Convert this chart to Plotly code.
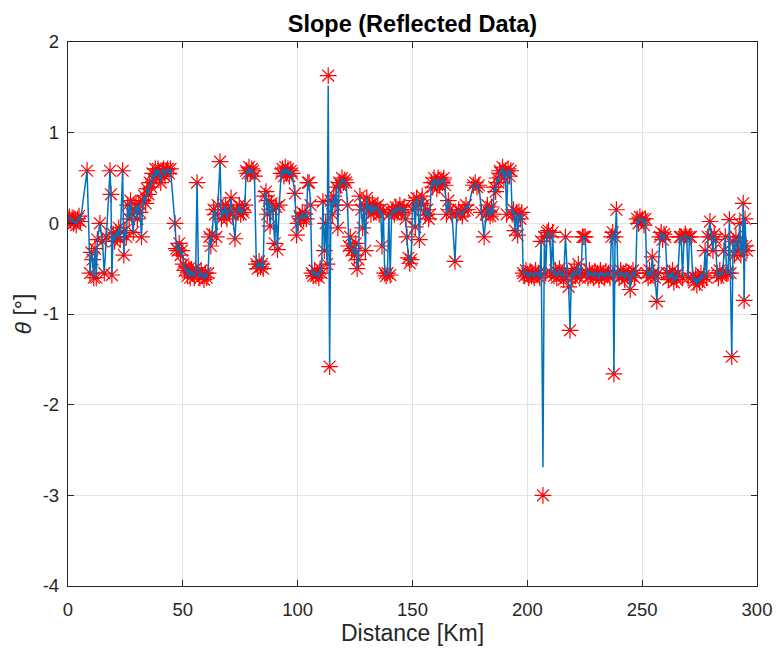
import plotly.graph_objects as go

# ---- data ----
distance_km = [
    0.0, 0.6, 1.2, 1.8, 2.4, 3.0, 3.6, 4.2, 4.8, 5.4,
    8.3, 9.6, 10.2, 10.7, 11.2, 11.8, 12.3, 12.8, 13.9, 15.0,
    15.8, 16.6, 18.3, 18.7, 19.1, 19.7, 20.3, 20.9, 21.5, 22.1,
    22.7, 23.8, 24.3, 24.8, 25.4, 26.0, 26.6, 27.2, 27.8, 28.4,
    29.0, 29.6, 30.2, 30.8, 31.4, 32.0, 32.6, 33.2, 33.8, 34.4,
    35.0, 35.6, 36.2, 36.8, 37.4, 38.0, 38.6, 39.2, 39.8, 40.4,
    41.0, 41.6, 42.2, 42.8, 43.4, 44.0, 44.6, 46.6, 47.2, 47.8,
    48.4, 49.0, 49.6, 50.2, 50.8, 51.4, 52.0, 52.6, 53.2, 53.8,
    54.4, 55.0, 55.6, 56.2, 56.8, 57.4, 58.0, 58.6, 59.2, 59.8,
    60.4, 61.0, 61.6, 62.2, 62.8, 63.4, 64.0, 64.6, 65.2, 66.2,
    66.8, 67.4, 68.0, 68.6, 69.2, 69.8, 70.4, 71.0, 71.6, 72.7,
    73.4, 74.0, 74.6, 75.2, 75.8, 76.4, 77.0, 77.6, 78.2, 78.8,
    79.4, 80.0, 80.6, 81.2, 82.0, 82.6, 83.2, 83.8, 84.4, 85.0,
    85.6, 86.2, 86.8, 87.4, 88.0, 88.6, 89.2, 90.0, 90.6, 91.2,
    92.0, 92.8, 93.4, 94.0, 94.6, 95.2, 95.8, 96.4, 97.0, 97.6,
    98.8, 99.5, 100.2, 100.8, 101.4, 102.0, 102.6, 103.2, 103.8, 104.4,
    105.0, 105.6, 106.2, 106.8, 107.4, 108.0, 108.6, 109.2, 109.8, 110.4,
    111.0, 111.6, 112.2, 112.8, 113.3, 113.9, 114.5, 115.1, 115.7, 116.3,
    116.9, 117.5, 118.1, 118.7, 119.3, 119.9, 120.5, 121.1, 121.7, 122.3,
    122.9, 123.5, 124.1, 124.7, 125.3, 125.9, 126.5, 127.1, 127.7, 128.3,
    128.9, 129.5, 130.1, 130.7, 131.3, 131.9, 132.5, 133.1, 133.7, 134.3,
    134.9, 135.5, 136.1, 136.7, 137.3, 137.9, 138.5, 139.1, 139.7, 140.3,
    140.9, 141.5, 142.1, 142.7, 143.3, 143.9, 144.5, 145.1, 145.7, 146.3,
    147.0, 147.6, 148.2, 148.8, 149.4, 150.0, 150.6, 151.2, 151.8, 152.4,
    153.0, 153.6, 154.2, 154.8, 155.6, 156.4, 157.0, 157.6, 158.2, 158.8,
    159.4, 160.0, 160.6, 161.2, 161.8, 162.4, 163.0, 163.6, 164.2, 164.8,
    165.6, 166.4, 167.2, 168.5, 169.3, 170.1, 170.9, 171.7, 172.5, 173.3,
    174.1, 176.5, 177.3, 178.1, 178.9, 180.0, 181.2, 182.0, 182.6, 183.2,
    183.8, 184.4, 185.0, 185.6, 186.2, 186.8, 187.4, 188.0, 188.6, 189.2,
    189.8, 190.4, 191.0, 191.6, 192.2, 192.8, 193.4, 194.0, 194.6, 195.2,
    195.8, 196.4, 197.0, 197.6, 198.2, 198.8, 199.4, 200.0, 200.6, 201.2,
    201.8, 202.4, 203.0, 203.6, 204.2, 204.8, 205.4, 206.0, 206.8, 207.4,
    208.0, 208.6, 209.2, 209.8, 210.4, 211.0, 211.6, 212.2, 212.8, 213.4,
    214.0, 214.6, 215.2, 215.8, 216.6, 217.4, 218.0, 218.6, 219.2, 219.8,
    220.4, 221.0, 221.6, 222.2, 222.8, 223.4, 224.0, 224.6, 225.2, 225.8,
    226.4, 227.0, 227.6, 228.2, 228.8, 229.4, 230.0, 230.6, 231.2, 231.8,
    232.4, 233.0, 233.6, 234.2, 234.8, 235.4, 236.0, 236.6, 237.2, 237.7,
    238.2, 238.8, 239.4, 240.0, 240.6, 241.2, 241.8, 242.4, 243.0, 243.6,
    244.2, 244.8, 245.4, 246.0, 246.6, 247.2, 247.8, 248.4, 249.0, 249.6,
    250.2, 250.8, 251.4, 252.0, 252.6, 253.2, 253.8, 254.4, 255.0, 255.6,
    256.4, 257.0, 257.7, 258.3, 258.9, 259.5, 260.1, 260.8, 261.4, 262.0,
    262.6, 263.2, 263.8, 264.4, 265.0, 265.6, 266.4, 267.0, 267.6, 268.2,
    268.8, 269.4, 270.0, 270.6, 271.2, 272.0, 272.6, 273.2, 273.8, 274.4,
    275.0, 275.6, 276.2, 276.8, 277.4, 278.0, 278.6, 279.5, 280.2, 280.8,
    281.4, 282.0, 282.6, 283.2, 283.8, 284.4, 285.0, 285.6, 286.2, 286.8,
    287.4, 288.0, 288.5, 289.0, 289.6, 290.2, 290.8, 291.4, 292.0, 292.5,
    293.0, 293.6, 294.0, 294.4, 294.8, 295.2, 295.6,
]

theta_deg = [
    0.05, 0.07, 0.03, 0.06, 0.0, 0.02, -0.02, 0.05, 0.08, 0.02,
    0.58, -0.55, -0.32, -0.4, -0.6, -0.28, -0.6, -0.18, 0.0, -0.2,
    -0.55, -0.15, 0.58, 0.32, -0.57, -0.12, -0.2, -0.1, -0.15, -0.05,
    -0.18, 0.58, -0.35, -0.08, -0.15, 0.2, 0.05, 0.25, 0.1, -0.1,
    0.15, 0.2, 0.05, 0.22, 0.12, -0.15, 0.25, 0.3, 0.22, 0.38,
    0.32, 0.45, 0.4, 0.55, 0.48, 0.6, 0.52, 0.6, 0.55, 0.45,
    0.58, 0.6, 0.52, 0.58, 0.6, 0.55, 0.6, 0.0, -0.28, -0.3,
    -0.22, -0.35, -0.3, -0.45, -0.52, -0.48, -0.58, -0.5, -0.6, -0.52,
    -0.55, -0.6, -0.5, 0.45, -0.55, -0.6, -0.52, -0.58, -0.62, -0.55,
    -0.6, -0.55, -0.15, -0.25, -0.12, 0.15, 0.1, -0.15, 0.2, 0.68,
    0.05, 0.15, 0.1, 0.2, 0.05, 0.15, 0.12, 0.28, 0.1, -0.17,
    0.15, 0.12, 0.2, 0.1, 0.15, 0.12, 0.2, 0.58, 0.55, 0.62,
    0.55, 0.6, 0.58, 0.52, -0.45, -0.5, -0.42, -0.48, -0.45, -0.5,
    0.3, 0.35, 0.1, 0.25, -0.03, 0.22, 0.15, -0.22, 0.18, -0.29,
    0.2, 0.55, 0.6, 0.52, 0.62, 0.55, 0.6, 0.52, 0.58, 0.55,
    0.33, -0.13, 0.0, 0.08, 0.05, 0.12, 0.05, 0.1, 0.05, 0.45,
    0.45, 0.2, -0.55, -0.58, -0.52, -0.58, -0.55, -0.6, -0.5, -0.55,
    0.24, -0.3, 0.0, -0.45, 1.63, -1.58, 0.25, 0.1, 0.3, 0.2,
    0.4, -0.05, 0.45, 0.42, 0.5, 0.45, 0.48, 0.45, 0.2, -0.25,
    -0.15, -0.3, -0.28, -0.35, -0.22, -0.5, -0.4, 0.3, 0.15, -0.05,
    0.2, -0.3, 0.28, 0.15, 0.2, 0.1, 0.22, 0.12, 0.18, 0.15,
    0.2, 0.1, 0.15, -0.25, 0.12, -0.55, -0.58, -0.55, 0.1, -0.57,
    0.12, 0.15, 0.1, 0.18, 0.12, 0.15, 0.2, 0.12, 0.15, 0.18,
    0.05, -0.15, -0.38, -0.44, -0.4, 0.15, 0.25, -0.04, 0.28, 0.2,
    -0.18, 0.22, 0.3, 0.2, 0.09, 0.15, 0.05, 0.1, 0.45, 0.4,
    0.5, 0.45, 0.38, 0.5, 0.42, 0.48, 0.45, 0.5, 0.42, 0.1,
    0.25, 0.15, 0.1, -0.42, 0.1, 0.15, 0.12, 0.08, 0.15, 0.2,
    0.15, 0.42, 0.45, 0.4, 0.42, 0.12, -0.15, 0.1, 0.2, 0.12,
    0.08, 0.18, 0.1, 0.4, 0.35, 0.5, 0.45, 0.58, 0.55, 0.62,
    0.5, 0.58, 0.1, 0.6, 0.52, 0.58, 0.1, 0.15, -0.08, 0.12,
    -0.13, 0.1, 0.05, 0.12, -0.55, -0.58, -0.52, -0.56, -0.6, -0.53,
    -0.58, -0.55, -0.6, -0.52, -0.57, -0.55, -0.6, -0.2, -3.0, -0.15,
    -0.55, -0.1, -0.08, -0.15, -0.55, -0.1, -0.58, -0.52, -0.6, -0.55,
    -0.5, -0.58, -0.55, -0.62, -0.15, -0.55, -0.7, -1.18, -0.55, -0.6,
    -0.5, -0.58, -0.55, -0.45, -0.6, -0.55, -0.15, -0.15, -0.15, -0.55,
    -0.6, -0.52, -0.58, -0.55, -0.6, -0.53, -0.57, -0.55, -0.62, -0.52,
    -0.58, -0.55, -0.6, -0.53, -0.57, -0.55, -0.6, -0.15, -0.1, -1.66,
    -0.15, 0.15, -0.55, -0.6, -0.52, -0.58, -0.55, -0.62, -0.53, -0.58,
    -0.55, -0.73, -0.58, -0.52, -0.6, -0.55, 0.05, 0.0, 0.07, 0.03,
    0.05, -0.02, 0.05, -0.55, -0.6, -0.52, -0.58, -0.37, -0.55, -0.6,
    -0.86, -0.55, -0.15, -0.1, -0.18, -0.12, -0.15, -0.55, -0.62, -0.55,
    -0.6, -0.52, -0.65, -0.58, -0.62, -0.55, -0.15, -0.15, -0.6, -0.15,
    -0.12, -0.15, -0.6, -0.15, -0.15, -0.58, -0.65, -0.6, -0.68, -0.6,
    -0.65, -0.55, -0.62, -0.58, -0.3, -0.6, -0.15, 0.02, -0.15, -0.3,
    -0.12, -0.18, -0.55, -0.6, -0.52, -0.58, -0.55, -0.3, -0.15, -0.55,
    -0.55, 0.04, -0.55, -1.47, -0.2, -0.35, -0.15, -0.3, -0.2, 0.0,
    -0.35, -0.25, 0.22, -0.85, 0.05, -0.25, -0.3,
]

# points where the plotted line differs from the starred samples
line_override_km = [113.3, 113.9, 206.8]
line_override_deg = [1.52, -1.55, -2.69]

x_ticks = [0, 50, 100, 150, 200, 250, 300]
y_ticks = [-4, -3, -2, -1, 0, 1, 2]

assert len(distance_km) == len(theta_deg)

override = dict(zip(line_override_km, line_override_deg))
theta_line = [override.get(d, t) for d, t in zip(distance_km, theta_deg)]

FONT = "Liberation Sans, Arial, Helvetica, sans-serif"
DARK = "#262626"
GRID = "#e3e3e3"

fig = go.Figure()
fig.add_trace(go.Scatter(
    x=distance_km, y=theta_deg, mode="markers",
    marker=dict(symbol="asterisk-open", size=14, color="#ff0000",
                line=dict(color="#ff0000", width=1.2)),
    showlegend=False, hoverinfo="skip",
))
fig.add_trace(go.Scatter(
    x=distance_km, y=theta_line, mode="lines",
    line=dict(color="#0072BD", width=1.5),
    showlegend=False,
))

axis_common = dict(
    showgrid=True, gridcolor=GRID, gridwidth=1,
    zeroline=False, automargin=False,
    showline=True, linecolor=DARK, linewidth=1.3, mirror="ticks",
    ticks="inside", ticklen=6, tickcolor=DARK, tickwidth=1,
    tickfont=dict(family=FONT, size=18.5, color=DARK),
)

fig.update_layout(
    width=777, height=655,
    paper_bgcolor="white", plot_bgcolor="white",
    margin=dict(l=68, r=20, t=42, b=69),
    title=dict(text="<b>Slope (Reflected Data)</b>",
               font=dict(family=FONT, size=23.5, color="#000000"),
               x=0.5, xanchor="center", xref="paper",
               y=1 - 24 / 655, yanchor="middle", yref="container"),
    xaxis=dict(range=[0, 300], tickvals=x_ticks,
               ticktext=[str(v) for v in x_ticks],
               ticklabelstandoff=7,
               title=dict(text="Distance [Km]",
                          font=dict(family=FONT, size=23, color=DARK),
                          standoff=3),
               **axis_common),
    yaxis=dict(range=[-4, 2], tickvals=y_ticks,
               ticktext=[str(v) for v in y_ticks],
               ticklabelstandoff=4,
               title=dict(text="<i>θ</i> [°]",
                          font=dict(family=FONT, size=23, color=DARK),
                          standoff=4),
               **axis_common),
)

fig.write_html("out.html", config={"displayModeBar": False})

# remove the browser's default page margin so the figure sits at (0, 0)
with open("out.html", "r", encoding="utf-8") as fh:
    page = fh.read()
page = page.replace("<body>", '<body style="margin:0;padding:0;">', 1)
with open("out.html", "w", encoding="utf-8") as fh:
    fh.write(page)
